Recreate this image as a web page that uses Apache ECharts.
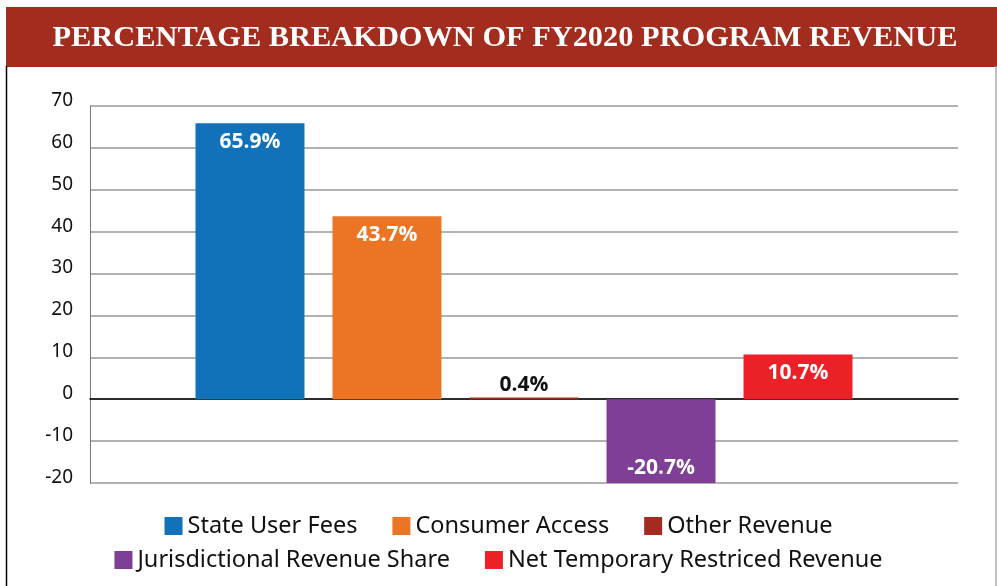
<!DOCTYPE html>
<html>
<head>
<meta charset="utf-8">
<script src="https://cdn.jsdelivr.net/npm/echarts@6/dist/echarts.min.js"></script>
<style>
  html, body { margin: 0; padding: 0; background: #ffffff; }
  #chart { width: 997px; height: 586px; }
</style>
</head>
<body>
<div id="chart"></div>
<script>
// FY2020 program revenue, share by source (percent)
const titleText = 'PERCENTAGE BREAKDOWN OF FY2020 PROGRAM REVENUE';
const category = ['FY2020'];
const seriesNames = [
  'State User Fees',
  'Consumer Access',
  'Other Revenue',
  'Jurisdictional Revenue Share',
  'Net Temporary Restriced Revenue'
];
const seriesValues = [65.9, 43.7, 0.4, -20.7, 10.7];
const seriesColors = ['#1172b9', '#eb7425', '#a32b1f', '#7f3f97', '#ec2128'];
const yTicks = { min: -20, max: 70, step: 10 };

const labelFont = '"Open Sans", "Noto Sans", sans-serif';

function labelFor(i) {
  const v = seriesValues[i];
  const base = {
    show: true,
    formatter: (p) => p.value.toFixed(1) + '%',
    fontFamily: labelFont,
    fontWeight: 'bold',
    fontSize: 21,
    color: '#ffffff'
  };
  if (Math.abs(v) < 2) {
    // too thin to hold its label: write it above in dark text
    return Object.assign(base, { position: 'top', distance: 2, color: '#111111' });
  }
  if (v < 0) {
    return Object.assign(base, { position: 'insideBottom', distance: 4 });
  }
  return Object.assign(base, { position: 'insideTop', distance: 8 });
}

const series = seriesNames.map((name, i) => ({
  name: name,
  type: 'bar',
  data: [seriesValues[i]],
  barWidth: 109,
  barGap: '25.7%',
  itemStyle: { color: seriesColors[i] },
  label: labelFor(i)
}));

// Fit the banner title to its width
const measureCtx = document.createElement('canvas').getContext('2d');
const titleFont = 'bold 30px "Liberation Serif", serif';
measureCtx.font = titleFont;
const titleScale = 905 / measureCtx.measureText(titleText).width;

const legendText = {
  fontFamily: '"Noto Sans", sans-serif',
  fontSize: 23.5,
  lineHeight: 24,
  color: '#111111'
};
const legendBase = {
  left: 'center',
  icon: 'rect',
  itemWidth: 18,
  itemHeight: 18,
  itemGap: 35,
  textStyle: legendText
};

const chart = echarts.init(document.getElementById('chart'), null, { renderer: 'canvas' });
chart.setOption({
  backgroundColor: '#ffffff',
  animation: false,
  grid: { left: 90, right: 39, top: 106, bottom: 103, containLabel: false },
  legend: [
    Object.assign({ data: seriesNames.slice(0, 3), top: 509 }, legendBase),
    Object.assign({ data: seriesNames.slice(3), top: 543 }, legendBase)
  ],
  xAxis: {
    type: 'category',
    data: category,
    axisLine: { show: true, onZero: true, lineStyle: { color: '#000000', width: 1.5 } },
    axisTick: { show: false },
    axisLabel: { show: false },
    splitLine: { show: false }
  },
  yAxis: {
    type: 'value',
    min: yTicks.min,
    max: yTicks.max,
    interval: yTicks.step,
    axisLine: { show: true, lineStyle: { color: '#777777', width: 1 } },
    axisTick: { show: false },
    axisLabel: {
      margin: 17,
      fontFamily: '"Noto Sans", sans-serif',
      fontSize: 19,
      lineHeight: 11,
      verticalAlign: 'bottom',
      color: '#111111'
    },
    splitLine: { show: true, lineStyle: { color: '#999999', width: 1.5 } }
  },
  graphic: [
    {
      type: 'rect',
      shape: { x: 6, y: 7, width: 991, height: 60 },
      style: { fill: '#a22c1e' },
      silent: true
    },
    {
      type: 'text',
      x: 505,
      y: 38,
      scaleX: titleScale,
      style: {
        text: titleText,
        font: titleFont,
        fill: '#ffffff',
        align: 'center',
        verticalAlign: 'middle'
      },
      silent: true
    },
    {
      type: 'line',
      shape: { x1: 6.5, y1: 66, x2: 6.5, y2: 586 },
      style: { stroke: '#000000', lineWidth: 1.5 },
      silent: true
    },
    {
      type: 'line',
      shape: { x1: 996, y1: 66, x2: 996, y2: 586 },
      style: { stroke: '#aaaaaa', lineWidth: 1.5 },
      silent: true
    }
  ],
  series: series
});
</script>
</body>
</html>
